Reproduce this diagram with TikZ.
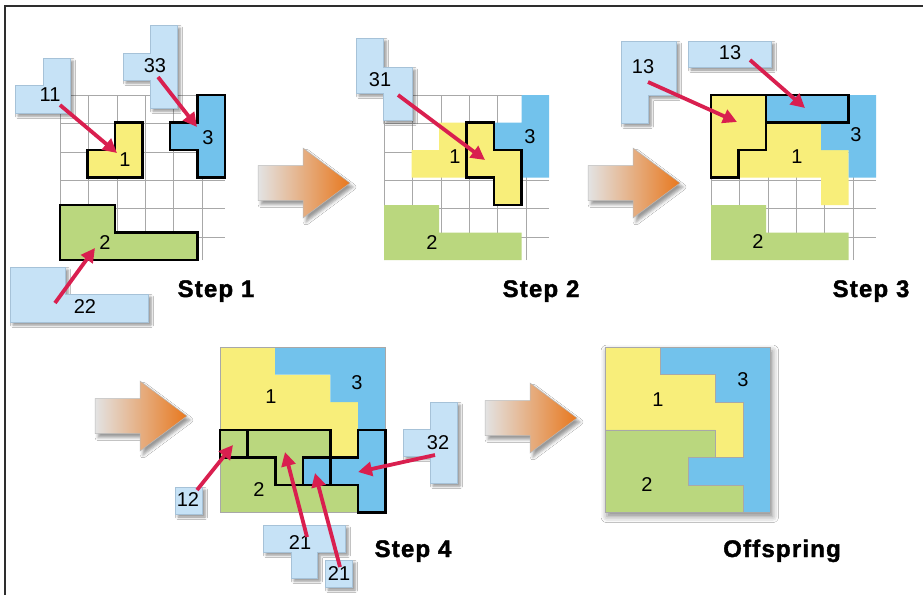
\documentclass[tikz,border=0pt]{standalone}
\usepackage{fontspec}
\setmainfont{Liberation Sans}
\newfontfamily\stepfont[LetterSpace=5,BoldFeatures={FakeBold=1.6}]{Liberation Sans}
\usetikzlibrary{arrows.meta,shadows.blur}
\definecolor{yel}{HTML}{F8EE7A}
\definecolor{blu}{HTML}{72C2EC}
\definecolor{grn}{HTML}{BAD77E}
\definecolor{lpc}{HTML}{C6E2F6}
\definecolor{lpcedge}{HTML}{A6C2D8}
\definecolor{crim}{HTML}{D91F4F}
\definecolor{orng}{HTML}{E8781E}
\definecolor{gridc}{HTML}{A8A8A8}
\definecolor{framec}{HTML}{2E2E2E}
\tikzset{
  gridl/.style={draw=gridc, line width=0.8pt},
  thk/.style={draw=black, line width=2.6pt, line join=miter},
  lightpiece/.style={fill=lpc, draw=lpcedge, line width=0.6pt,
     blur shadow={shadow xshift=3pt, shadow yshift=-3pt, shadow blur radius=2.5pt, shadow opacity=45}},
  num/.style={font=\fontsize{20}{20}\selectfont, inner sep=0pt},
  steplabel/.style={font=\stepfont\bfseries\fontsize{24}{24}\selectfont, anchor=base, inner sep=0pt},
  redarrow/.style={draw=crim, line width=3.8pt, -{Triangle[length=14pt,width=14pt]}},
  orarrow/.style={left color=gray!22, right color=orng, draw=gray!55, line width=0.5pt,
     blur shadow={shadow xshift=3pt, shadow yshift=-4pt, shadow blur radius=3pt, shadow opacity=40}},
  framel/.style={draw=framec, line width=2pt},
}
\newcommand\gridbg{\fill[white] (0,0) rectangle (6,6); \draw[gridl] (0,0) grid (6,6);}
\newcommand\bigarrow[2]{\path[orarrow] (#1,#2) ++(0,-17.5) -- ++(45,0) -- ++(0,-17.5) -- ++(47,35) -- ++(-47,35) -- ++(0,-17.5) -- ++(-45,0) -- cycle;}
\begin{document}
\begin{tikzpicture}[x=1pt,y=-1pt]
\useasboundingbox (0,0) rectangle (923,595);
\fill[white] (0,0) rectangle (923,595);
\draw[framel] (5,595) -- (5,6) -- (923,6);

% ---------- Step 1 ----------
\begin{scope}[shift={(60,95)},x=27.5pt,y=-27.5pt]
\gridbg
\path[thk,fill=yel] (2,1) -- (3,1) -- (3,3) -- (1,3) -- (1,2) -- (2,2) -- cycle;
\path[thk,fill=blu] (5,0) -- (6,0) -- (6,3) -- (5,3) -- (5,2) -- (4,2) -- (4,1) -- (5,1) -- cycle;
\path[thk,fill=grn] (0,4) -- (2,4) -- (2,5) -- (5,5) -- (5,6) -- (0,6) -- cycle;
\end{scope}
\node[num] (s1n1) at (125,160) {1};
\node[num] (s1n3) at (208,138) {3};
\node[num] (s1n2) at (105,243) {2};
\path[lightpiece] (43,58) -- (70,58) -- (70,113) -- (15,113) -- (15,85) -- (43,85) -- cycle;
\path[lightpiece] (150,25) -- (177,25) -- (177,108) -- (150,108) -- (150,80) -- (123,80) -- (123,53) -- (150,53) -- cycle;
\path[lightpiece] (10,267) -- (65,267) -- (65,294) -- (148,294) -- (148,322) -- (10,322) -- cycle;
\node[num] (p11) at (50,95) {11};
\node[num] (p33) at (155,66) {33};
\node[num] (p22) at (85,307) {22};
\coordinate (a11s) at (60,105); \coordinate (a11e) at (117,153);
\coordinate (a33s) at (158,77); \coordinate (a33e) at (197,127);
\coordinate (a22s) at (55,303); \coordinate (a22e) at (95,248);
\draw[redarrow] (a11s) -- (a11e);
\draw[redarrow] (a33s) -- (a33e);
\draw[redarrow] (a22s) -- (a22e);
\node[steplabel] (st1) at (216,297) {Step 1};

% ---------- Step 2 ----------
\bigarrow{258}{183}
\begin{scope}[shift={(384,95)},x=27.5pt,y=-27.5pt]
\gridbg
\fill[yel] (2,1) -- (3,1) -- (3,3) -- (1,3) -- (1,2) -- (2,2) -- cycle;
\fill[blu] (5,0) -- (6,0) -- (6,3) -- (5,3) -- (5,2) -- (4,2) -- (4,1) -- (5,1) -- cycle;
\fill[grn] (0,4) -- (2,4) -- (2,5) -- (5,5) -- (5,6) -- (0,6) -- cycle;
\path[thk,fill=yel] (3,1) -- (4,1) -- (4,2) -- (5,2) -- (5,4) -- (4,4) -- (4,3) -- (3,3) -- cycle;
\end{scope}
\node[num] (s2n1) at (455,157) {1};
\node[num] (s2n3) at (530,137) {3};
\node[num] (s2n2) at (432,243) {2};
\path[lightpiece] (356,38) -- (383,38) -- (383,67) -- (412,67) -- (412,120) -- (383,120) -- (383,93) -- (356,93) -- cycle;
\node[num] (p31) at (380,80) {31};
\coordinate (a31s) at (398,95); \coordinate (a31e) at (485,160);
\draw[redarrow] (a31s) -- (a31e);
\node[steplabel] (st2) at (541,297) {Step 2};

% ---------- Step 3 ----------
\bigarrow{588}{183}
\begin{scope}[shift={(711,95)},x=27.5pt,y=-27.5pt]
\gridbg
\fill[yel] (2,1) -- (4,1) -- (4,2) -- (5,2) -- (5,4) -- (4,4) -- (4,3) -- (1,3) -- (1,2) -- (2,2) -- cycle;
\fill[blu] (5,0) -- (6,0) -- (6,3) -- (5,3) -- (5,2) -- (4,2) -- (4,1) -- (5,1) -- cycle;
\fill[grn] (0,4) -- (2,4) -- (2,5) -- (5,5) -- (5,6) -- (0,6) -- cycle;
\path[thk,fill=yel] (0,0) -- (2,0) -- (2,2) -- (1,2) -- (1,3) -- (0,3) -- cycle;
\path[thk,fill=blu] (2,0) -- (5,0) -- (5,1) -- (2,1) -- cycle;
\end{scope}
\node[num] (s3n1) at (797,157) {1};
\node[num] (s3n3) at (856,135) {3};
\node[num] (s3n2) at (758,242) {2};
\path[lightpiece] (621,41) -- (676,41) -- (676,95) -- (648,95) -- (648,123) -- (621,123) -- cycle;
\path[lightpiece] (688,41) rectangle (771,67);
\node[num] (p13a) at (643,67) {13};
\node[num] (p13b) at (730,53) {13};
\coordinate (a13as) at (648,82); \coordinate (a13ae) at (737,122);
\coordinate (a13bs) at (750,60); \coordinate (a13be) at (805,108);
\draw[redarrow] (a13as) -- (a13ae);
\draw[redarrow] (a13bs) -- (a13be);
\node[steplabel] (st3) at (871,297) {Step 3};

% ---------- Step 4 ----------
\bigarrow{95}{416}
\begin{scope}[shift={(220,347)},x=27.6pt,y=-27.6pt]
\fill[yel] (0,0) -- (2,0) -- (2,1) -- (4,1) -- (4,2) -- (5,2) -- (5,4) -- (4,4) -- (4,3) -- (0,3) -- cycle;
\fill[blu] (2,0) -- (6,0) -- (6,3) -- (5,3) -- (5,2) -- (4,2) -- (4,1) -- (2,1) -- cycle;
\fill[grn] (0,3) -- (4,3) -- (4,6) -- (0,6) -- cycle;
\fill[grn] (0,4) -- (2,4) -- (2,5) -- (5,5) -- (5,6) -- (0,6) -- cycle;
\draw[gridl] (0,0) rectangle (6,6);
\path[thk,fill=grn] (0,3) -- (1,3) -- (1,4) -- (0,4) -- cycle;
\path[thk,fill=grn] (1,3) -- (4,3) -- (4,4) -- (3,4) -- (3,5) -- (2,5) -- (2,4) -- (1,4) -- cycle;
\path[thk,fill=blu] (3,4) -- (4,4) -- (4,5) -- (3,5) -- cycle;
\path[thk,fill=blu] (5,3) -- (6,3) -- (6,6) -- (5,6) -- (5,5) -- (4,5) -- (4,4) -- (5,4) -- cycle;
\end{scope}
\node[num] (s4n1) at (271,397) {1};
\node[num] (s4n3) at (357,383) {3};
\node[num] (s4n2) at (259,490) {2};
\path[lightpiece] (175,487) rectangle (202,514);
\path[lightpiece] (263,525) -- (345,525) -- (345,552) -- (317,552) -- (317,578) -- (291,578) -- (291,552) -- (263,552) -- cycle;
\path[lightpiece] (325,560) rectangle (352,587);
\path[lightpiece] (430,402) -- (457,402) -- (457,483) -- (430,483) -- (430,456) -- (403,456) -- (403,429) -- (430,429) -- cycle;
\node[num] (p12) at (188,500) {12};
\node[num] (p21a) at (300,543) {21};
\node[num] (p21b) at (339,574) {21};
\node[num] (p32) at (438,443) {32};
\coordinate (a12s) at (197,490); \coordinate (a12e) at (233,445);
\coordinate (a21as) at (307,537); \coordinate (a21ae) at (285,452);
\coordinate (a21bs) at (340,567); \coordinate (a21be) at (315,473);
\coordinate (a32s) at (435,455); \coordinate (a32e) at (358,472);
\draw[redarrow] (a12s) -- (a12e);
\draw[redarrow] (a21as) -- (a21ae);
\draw[redarrow] (a21bs) -- (a21be);
\draw[redarrow] (a32s) -- (a32e);
\node[steplabel] (st4) at (413,557) {Step 4};

% ---------- Offspring ----------
\bigarrow{485}{418}
\begin{scope}[shift={(605,347)},x=27.6pt,y=-27.6pt]
\path[fill=white, blur shadow={shadow xshift=2pt, shadow yshift=-4pt, shadow blur radius=6pt, shadow opacity=45}] (0,0) rectangle (6,6);
\fill[yel] (0,0) -- (2,0) -- (2,1) -- (4,1) -- (4,2) -- (5,2) -- (5,4) -- (4,4) -- (4,3) -- (0,3) -- cycle;
\fill[blu] (2,0) -- (6,0) -- (6,6) -- (5,6) -- (5,5) -- (3,5) -- (3,4) -- (5,4) -- (5,2) -- (4,2) -- (4,1) -- (2,1) -- cycle;
\fill[grn] (0,3) -- (4,3) -- (4,4) -- (3,4) -- (3,5) -- (5,5) -- (5,6) -- (0,6) -- cycle;
\draw[gridc, line width=0.5pt] (0,3) -- (4,3) -- (4,4) -- (3,4) -- (3,5) -- (5,5) -- (5,6);
\draw[gridc, line width=0.5pt] (2,0) -- (2,1) -- (4,1) -- (4,2) -- (5,2) -- (5,4) -- (4,4);
\draw[gridl] (0,0) rectangle (6,6);
\end{scope}
\node[num] (ofn1) at (658,400) {1};
\node[num] (ofn2) at (647,485) {2};
\node[num] (ofn3) at (743,380) {3};
\node[steplabel] (off) at (782,557) {Offspring};
\end{tikzpicture}
\end{document}
